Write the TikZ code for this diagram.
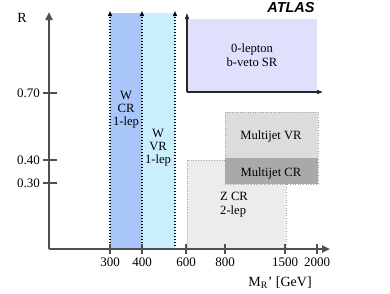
\documentclass[tikz,border=0pt]{standalone}
\usepackage{fontspec}
\setmainfont{Liberation Serif}
\newfontfamily\atlasfont{Liberation Sans}
\usetikzlibrary{arrows.meta}
\definecolor{wcr}{HTML}{A9C6FB}
\definecolor{wvr}{HTML}{C9EFFD}
\definecolor{srfill}{HTML}{E0E0FC}
\definecolor{mjvr}{HTML}{DCDCDC}
\definecolor{mjcr}{HTML}{A9A9A9}
\definecolor{zcr}{HTML}{ECECEC}
\definecolor{axisc}{HTML}{505050}
\begin{document}
\begin{tikzpicture}[x=1pt,y=-1pt,
  lbl/.style={font=\fontsize{12.6}{13}\selectfont, inner sep=0pt},
  ticklbl/.style={font=\fontsize{13}{14}\selectfont, inner sep=0pt},
  mainaxis/.style={draw=axisc, line width=2pt, -{Triangle[length=8pt,width=7pt]}},
  tickm/.style={draw=axisc, line width=1.2pt},
  bandline/.style={draw=black, line width=1.2pt, dash pattern=on 1.5pt off 1.5pt, -{Triangle[length=5pt,width=4pt]}},
  srax/.style={draw=black!85, line width=1.3pt, -{Triangle[length=6pt,width=4pt]}},
  regbox/.style={draw=gray!70, line width=0.6pt, dotted}]
\useasboundingbox (0,0) rectangle (390,293);
% bands
\fill[wcr] (110,13) rectangle (142,249);
\fill[wvr] (142,13) rectangle (175,249);
% SR region
\fill[srfill] (187,19) rectangle (317,92);
% Z CR
\filldraw[fill=zcr, regbox] (187,160) rectangle (286,249);
% Multijet VR/CR
\filldraw[fill=mjvr, regbox] (225,112) rectangle (318,158);
\filldraw[fill=mjcr, regbox] (225,158) rectangle (318,184);
% coordinates
\coordinate (o) at (49,249);
\coordinate (ytop) at (49,12);
\coordinate (xend) at (330,249);
\coordinate (b1) at (110,249); \coordinate (b1t) at (110,11);
\coordinate (b2) at (142,249); \coordinate (b2t) at (142,11);
\coordinate (b3) at (175,249); \coordinate (b3t) at (175,11);
\coordinate (sro) at (187,92); \coordinate (srt) at (187,13); \coordinate (srr) at (323,92);
% band lines
\draw[bandline] (b1) -- (b1t);
\draw[bandline] (b2) -- (b2t);
\draw[bandline] (b3) -- (b3t);
% SR axes
\draw[srax] (sro) -- (srt);
\draw[srax] (sro) -- (srr);
% main axes
\draw[mainaxis] (o) -- (ytop);
\draw[mainaxis] (o) -- (xend);
% y ticks
\foreach \yy/\t [count=\i] in {93/0.70,160/0.40,183/0.30}{
  \draw[tickm] (43,\yy) -- (57,\yy);
  \node[ticklbl, anchor=east] (yl\i) at (40,\yy) {\t};
}
% x ticks
\foreach \xx/\t [count=\i] in {110/300,142/400,186/600,225/800,285/1500,317/2000}{
  \draw[tickm] (\xx,244) -- (\xx,254);
  \node[ticklbl] (xl\i) at (\xx,262.5) {\t};
}
% labels
\node[ticklbl, font=\fontsize{14}{15}\selectfont] (rlab) at (22,18) {R};
\node[ticklbl, font=\fontsize{14}{15}\selectfont] (mlab) at (280,283) {M\textsubscript{R}’ [GeV]};
\node[inner sep=0pt, font=\atlasfont\bfseries\itshape\fontsize{14.5}{15}\selectfont] (atlas) at (291,8) {ATLAS};
\node[lbl, align=center] (wcrl) at (126,110) {W\\[0pt]CR\\[0pt]1-lep};
\node[lbl, align=center] (wvrl) at (158,148) {W\\[0pt]VR\\[0pt]1-lep};
\node[lbl, align=center] (srl) at (252,55) {0-lepton\\[1pt]b-veto SR};
\node[lbl] (mjvrl) at (271,136) {Multijet VR};
\node[lbl] (mjcrl) at (271,173) {Multijet CR};
\node[lbl, align=left, anchor=west] (zcrl) at (220,204.5) {Z CR\\[1pt]2-lep};
\end{tikzpicture}
\end{document}
